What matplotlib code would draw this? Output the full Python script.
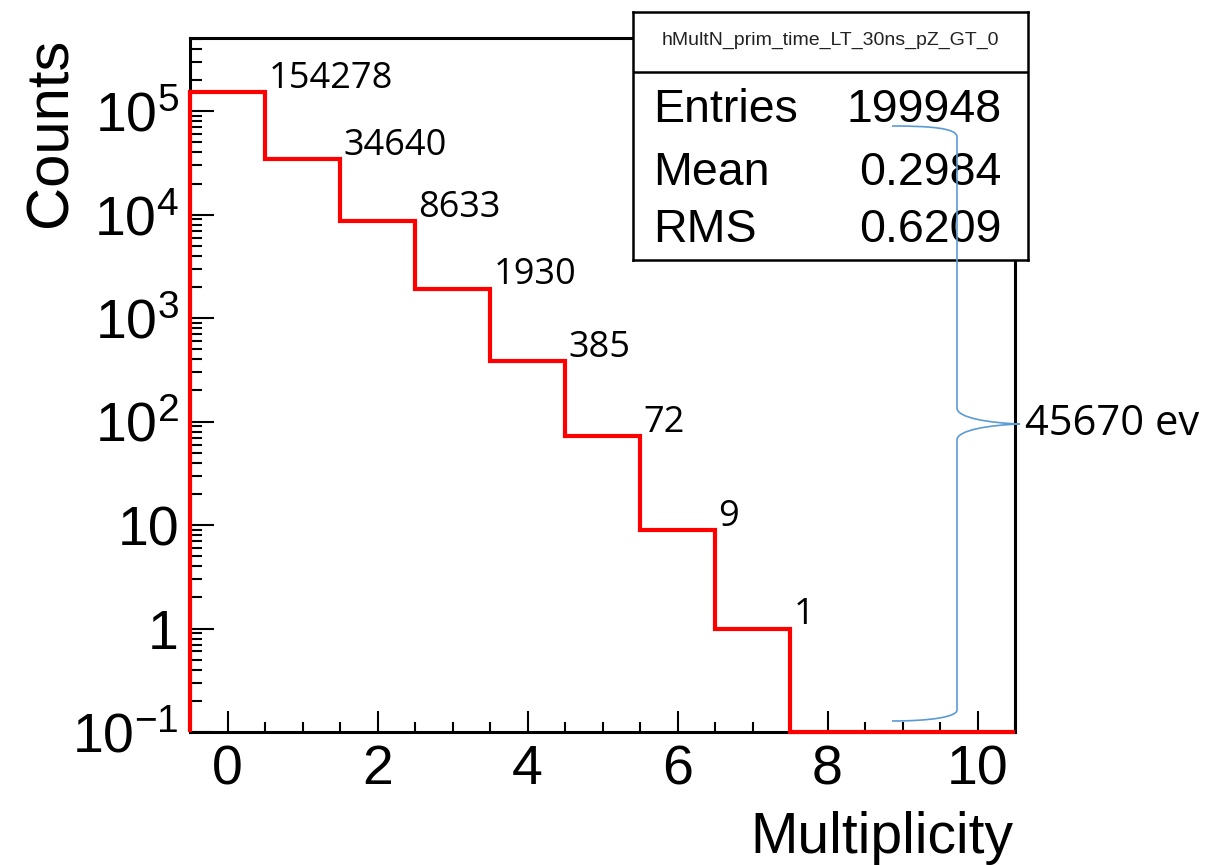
import matplotlib
matplotlib.use("Agg")
import matplotlib.pyplot as plt
import numpy as np
from matplotlib.path import Path
from matplotlib.patches import PathPatch
from matplotlib.ticker import FixedLocator, FixedFormatter, LogLocator, NullFormatter, MultipleLocator

plt.rcParams["font.family"] = "Liberation Sans"
plt.rcParams["mathtext.fontset"] = "custom"
plt.rcParams["mathtext.rm"] = "Liberation Sans"
plt.rcParams["mathtext.it"] = "Liberation Sans:italic"

# histogram contents, one bin per multiplicity 0..10
bin_edges = np.arange(-0.5, 11.0, 1.0)
counts = [154278, 34640, 8633, 1930, 385, 72, 9, 1, 0, 0, 0]
labels = ["154278", "34640", "8633", "1930", "385", "72", "9", "1"]

hist_name = "hMultN_prim_time_LT_30ns_pZ_GT_0"
stat_names = ["Entries", "Mean", "RMS"]
stat_values = ["199948", "0.2984", "0.6209"]
brace_text = "45670 ev"

y_ticks = [0.1, 1, 10, 100, 1000, 1e4, 1e5]
y_ticklabels = ["$10^{-1}$", "1", "10", "$10^{2}$", "$10^{3}$", "$10^{4}$", "$10^{5}$"]

W, H = 1206, 865
fig = plt.figure(figsize=(W / 100, H / 100), dpi=100)
ax = fig.add_axes([190 / W, 1 - 732 / H, 825 / W, (732 - 38) / H])

ymin = 0.1
drawn = np.maximum(np.array(counts, dtype=float), ymin)
ax.stairs(drawn, bin_edges, baseline=ymin, color="#ff0000", lw=3, zorder=3, clip_on=False)

ax.set_yscale("log")
ax.set_xlim(-0.5, 10.5)
ax.set_ylim(ymin, 5.1e5)

ax.xaxis.set_major_locator(MultipleLocator(2))
ax.xaxis.set_minor_locator(MultipleLocator(0.5))
ax.yaxis.set_major_locator(FixedLocator(y_ticks))
ax.yaxis.set_major_formatter(FixedFormatter(y_ticklabels))
ax.yaxis.set_minor_locator(LogLocator(base=10, subs=np.arange(2, 10), numticks=20))
ax.yaxis.set_minor_formatter(NullFormatter())

ax.tick_params(axis="both", which="both", direction="in", top=False, right=False,
               width=1.5, color="black", labelsize=40)
ax.tick_params(axis="x", which="major", length=15, pad=9)
ax.tick_params(axis="x", which="minor", length=7.5)
ax.tick_params(axis="y", which="major", length=17, pad=8)
ax.tick_params(axis="y", which="minor", length=8.5)
for s in ax.spines.values():
    s.set_linewidth(2.2)

for i, lab in enumerate(labels):
    ax.annotate(lab, (bin_edges[i + 1], counts[i]), xytext=(2.5, 3), textcoords="offset points",
                ha="left", va="baseline", fontsize=26, family="Open Sans", zorder=4)

fig.text(51 / W, 1 - 38 / H, "Counts", rotation=90, ha="center", va="top", fontsize=43)
fig.text(1013 / W, 1 - 853 / H, "Multiplicity", ha="right", va="baseline", fontsize=41)

# stats box
sb = fig.add_axes([633 / W, 1 - 260 / H, 395 / W, 248 / H])
sb.set_xticks([])
sb.set_yticks([])
sb.set_xlim(0, 1)
sb.set_ylim(0, 1)
sb.set_facecolor("white")
for s in sb.spines.values():
    s.set_linewidth(1.8)
sb.axhline(1 - 60 / 248, color="black", lw=1.8)
sb.text(0.5, 1 - 33 / 248, hist_name, ha="center", va="baseline", fontsize=14, color="#222222")
row_base = [1 - 110 / 248, 1 - 173 / 248, 1 - 230 / 248]
for name, val, yb in zip(stat_names, stat_values, row_base):
    sb.text(0.05, yb, name, ha="left", va="baseline", fontsize=33.5)
    sb.text(0.934, yb, val, ha="right", va="baseline", fontsize=33.5)

# curly brace annotation
pts = [(892, 126), (930, 126), (957, 128), (957, 137),
       (957, 408),
       (957, 418), (990, 423), (1020, 424),
       (990, 425), (957, 430), (957, 440),
       (957, 710),
       (957, 717), (930, 721), (892, 721)]
codes = [Path.MOVETO, Path.CURVE4, Path.CURVE4, Path.CURVE4,
         Path.LINETO,
         Path.CURVE4, Path.CURVE4, Path.CURVE4,
         Path.CURVE4, Path.CURVE4, Path.CURVE4,
         Path.LINETO,
         Path.CURVE4, Path.CURVE4, Path.CURVE4]
verts = [(x / W, 1 - y / H) for x, y in pts]
brace = PathPatch(Path(verts, codes), transform=fig.transFigure, fill=False,
                  edgecolor="#5b9bd5", lw=1.2, zorder=5)
fig.add_artist(brace)
fig.text(1025 / W, 1 - 424 / H, brace_text, ha="left", va="center", fontsize=30, family="Open Sans")

fig.savefig("out.png", dpi=100)
